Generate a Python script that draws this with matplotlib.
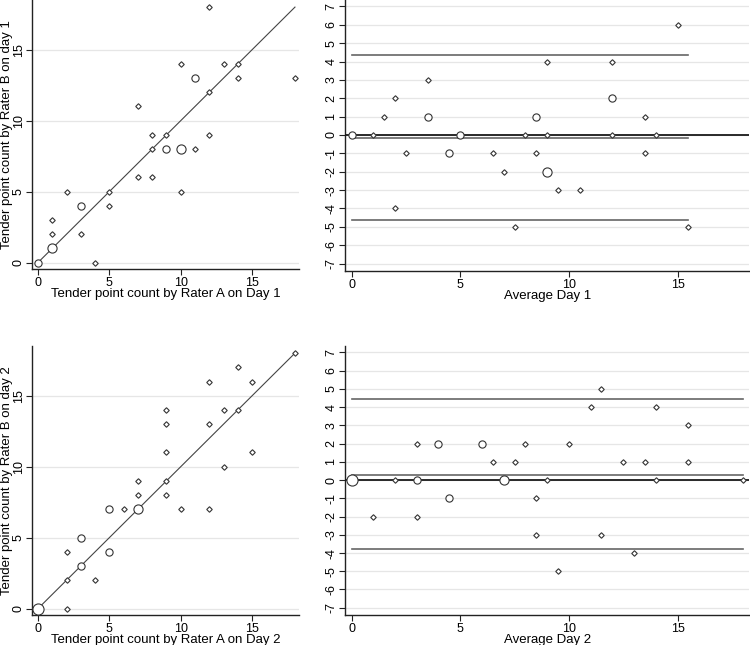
import matplotlib
matplotlib.use("Agg")
import matplotlib.pyplot as plt

plt.rcParams['font.family'] = ['Liberation Sans', 'DejaVu Sans']
plt.rcParams['axes.unicode_minus'] = False

# Day 1 ratings (Rater A, Rater B) and marker weight (frequency)
a_day1 = [0, 1, 1, 1, 2, 3, 3, 4, 5, 5, 7, 7, 8, 8, 8, 9, 9, 10, 10, 10, 11, 11, 12, 12, 12, 13, 14, 14, 18]
b_day1 = [0, 1, 2, 3, 5, 4, 2, 0, 5, 4, 11, 6, 9, 8, 6, 9, 8, 8, 14, 5, 13, 8, 18, 12, 9, 14, 14, 13, 13]
w_day1 = [2, 3, 1, 1, 1, 2, 1, 1, 1, 1, 1, 1, 1, 1, 1, 1, 2, 3, 1, 1, 2, 1, 1, 1, 1, 1, 1, 1, 1]

# Day 1 Bland-Altman (average, difference, weight)
avg_day1 = [0, 1, 1.5, 2, 2, 2.5, 3.5, 3.5, 4.5, 5, 6.5, 7, 7.5, 8, 8.5, 8.5, 9, 9, 9, 9.5, 10.5, 12, 12, 12, 13.5, 13.5, 14, 15, 15.5]
diff_day1 = [0, 0, 1, 2, -4, -1, 3, 1, -1, 0, -1, -2, -5, 0, 1, -1, 4, 0, -2, -3, -3, 4, 2, 0, 1, -1, 0, 6, -5]
wd_day1 = [2, 1, 1, 1, 1, 1, 1, 2, 2, 2, 1, 1, 1, 1, 2, 1, 1, 1, 3, 1, 1, 1, 2, 1, 1, 1, 1, 1, 1]
loa_day1 = [4.35, -0.15, -4.65]   # upper limit, mean difference, lower limit

# Day 2 ratings
a_day2 = [0, 2, 2, 2, 3, 3, 4, 5, 5, 6, 7, 7, 7, 9, 9, 9, 9, 9, 10, 12, 12, 12, 13, 13, 14, 14, 15, 15, 18]
b_day2 = [0, 0, 2, 4, 3, 5, 2, 4, 7, 7, 7, 8, 9, 8, 9, 11, 13, 14, 7, 7, 13, 16, 10, 14, 14, 17, 16, 11, 18]
w_day2 = [4, 1, 1, 1, 2, 2, 1, 2, 2, 1, 3, 1, 1, 1, 1, 1, 1, 1, 1, 1, 1, 1, 1, 1, 1, 1, 1, 1, 1]

# Day 2 Bland-Altman
avg_day2 = [0, 1, 2, 3, 3, 3, 4, 4.5, 6, 6.5, 7, 7.5, 8, 8.5, 8.5, 9, 9.5, 10, 11, 11.5, 11.5, 12.5, 13, 13.5, 14, 14, 15.5, 15.5, 18]
diff_day2 = [0, -2, 0, 2, 0, -2, 2, -1, 2, 1, 0, 1, 2, -1, -3, 0, -5, 2, 4, 5, -3, 1, -4, 1, 4, 0, 3, 1, 0]
wd_day2 = [4, 1, 1, 1, 2, 1, 2, 2, 2, 1, 3, 1, 1, 1, 1, 1, 1, 1, 1, 1, 1, 1, 1, 1, 1, 1, 1, 1, 1]
loa_day2 = [4.42, 0.3, -3.77]

EDGE = '#333333'
GRID = '#e6e6e6'
sizes = {1: 3.3, 2: 5.2, 3: 6.6, 4: 8.0}


def draw_points(ax, x, y, w):
    for xi, yi, wi in zip(x, y, w):
        m = 'D' if wi == 1 else 'o'
        ms = sizes[wi] * (0.85 if m == 'D' else 1)
        ax.plot(xi, yi, marker=m, ms=ms, mfc='white', mec=EDGE, mew=0.8,
                linestyle='none', zorder=4, clip_on=False)


def style(ax, yticks):
    for s in ['top', 'right']:
        ax.spines[s].set_visible(False)
    for s in ['left', 'bottom']:
        ax.spines[s].set_color('#222222')
        ax.spines[s].set_linewidth(1.0)
    ax.set_yticks(yticks)
    ax.set_xticks([0, 5, 10, 15])
    ax.tick_params(length=4, width=0.8, color='#222222', labelsize=9, pad=2)
    ax.tick_params(axis='y', labelrotation=90, pad=1.5)
    for t in ax.get_yticklabels():
        t.set_va('center')
    ax.grid(axis='y', color=GRID, lw=0.9)
    ax.set_axisbelow(True)


fig = plt.figure(figsize=(7.5, 6.45), dpi=100)

pos = {
    'tl': [0.043, 0.583, 0.356, 0.417],
    'tr': [0.460, 0.580, 0.539, 0.420],
    'bl': [0.043, 0.0465, 0.356, 0.417],
    'br': [0.460, 0.0465, 0.539, 0.417],
}

panels = [
    ('tl', a_day1, b_day1, w_day1, 'Tender point count by Rater A on Day 1', 'Tender point count by Rater B on day 1'),
    ('bl', a_day2, b_day2, w_day2, 'Tender point count by Rater A on Day 2', 'Tender point count by Rater B on day 2'),
]
for key, a, b, w, xl, yl in panels:
    ax = fig.add_axes(pos[key])
    style(ax, [0, 5, 10, 15])
    ax.plot([0, 18], [0, 18], color='#444444', lw=0.8, zorder=3)
    draw_points(ax, a, b, w)
    ax.set_xlim(-0.4, 18.3)
    ax.set_ylim(-0.45, 18.5)
    ax.set_xlabel(xl, fontsize=9.5, labelpad=-1)
    ax.set_ylabel(yl, fontsize=9.5, labelpad=0)

ba = [
    ('tr', avg_day1, diff_day1, wd_day1, loa_day1, 'Average Day 1'),
    ('br', avg_day2, diff_day2, wd_day2, loa_day2, 'Average Day 2'),
]
for key, av, df, w, loa, xl in ba:
    ax = fig.add_axes(pos[key])
    style(ax, list(range(-7, 8)))
    ax.axhline(0, color='#1a1a1a', lw=1.3, zorder=3)
    for val in loa:
        ax.plot([min(av), max(av)], [val, val], color='#666666', lw=1.2, zorder=3)
    draw_points(ax, av, df, w)
    ax.set_xlim(-0.3, 18.3)
    ax.set_ylim(-7.4, 7.35)
    ax.set_xlabel(xl, fontsize=9.5, labelpad=-1)

fig.savefig('out.png', dpi=100)
